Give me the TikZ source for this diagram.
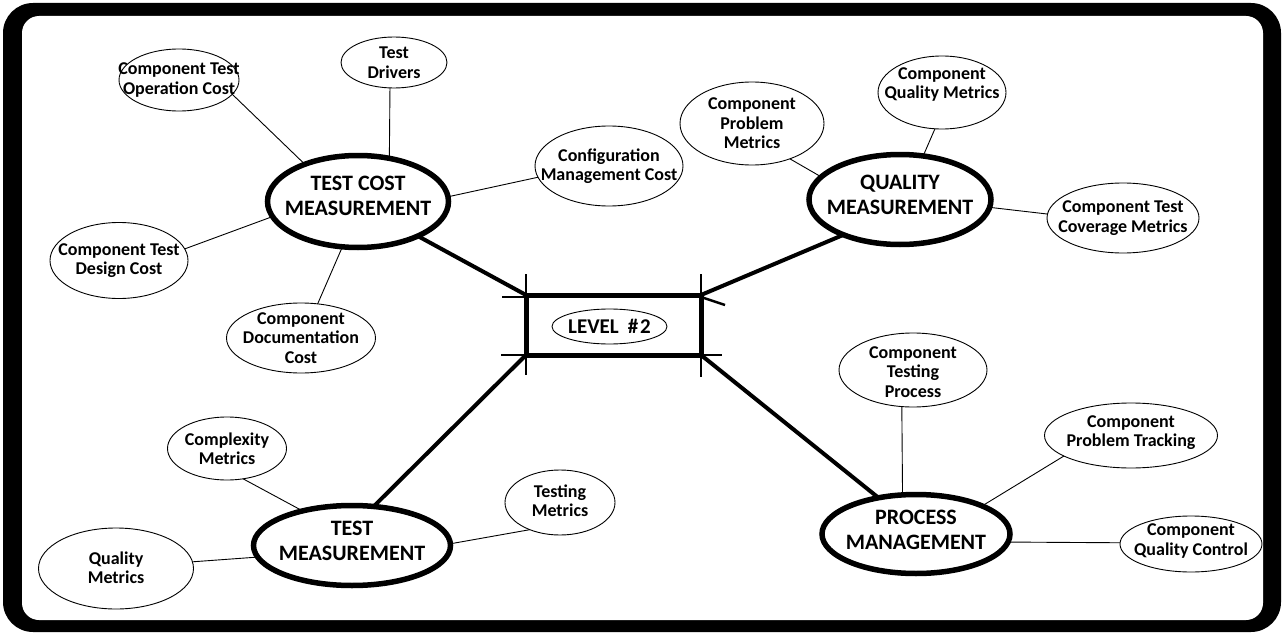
\documentclass[tikz,border=0pt]{standalone}
\usepackage{fontspec}
\setmainfont{Carlito}
\usetikzlibrary{shapes.geometric}

% small ellipse with its label: name, x, y, width, height, label offset, text
\newcommand\bubble[7]{%
  \node[small, minimum width=#4pt, minimum height=#5pt] (#1) at (#2,#3) {};
  \node[stxt] (#1-t) at (#2,{#3+#6}) {#7};}
% big ellipse with its label
\newcommand\hub[7]{%
  \node[big, minimum width=#4pt, minimum height=#5pt] (#1) at (#2,#3) {};
  \node[btxt] (#1-t) at (#2,{#3+#6}) {#7};}

\begin{document}
\begin{tikzpicture}[x=1pt,y=-1pt,
  small/.style={ellipse, draw, line width=0.9pt, inner sep=0pt, outer sep=0pt},
  big/.style={ellipse, draw, line width=5.5pt, inner sep=0pt, outer sep=0pt},
  stxt/.style={font=\bfseries\fontsize{18}{19.5}\selectfont, align=center, inner sep=0pt},
  btxt/.style={font=\bfseries\fontsize{22}{25}\selectfont, align=center, inner sep=0pt},
  thin link/.style={line width=0.9pt},
  thick link/.style={line width=4pt},
  tick/.style={line width=2.5pt}
]
\useasboundingbox (0,0) rectangle (1283,634);
% frame
\fill[black, rounded corners=30pt] (3,3) rectangle (1281,632);
\fill[white, rounded corners=17pt] (22,16) rectangle (1263,620);

% centre box
\node[draw, line width=5pt, minimum width=175pt, minimum height=60pt,
      inner sep=0pt, outer sep=0pt] (lvl) at (613.5,325) {};
\node[small, minimum width=115pt, minimum height=35pt] (lvlx) at (609.5,326.5) {};
\node[font=\bfseries\fontsize{21}{24}\selectfont, inner sep=0pt] (lvlt) at (609.5,326.5)
  {LEVEL\hspace{9pt}\#\hspace{2pt}2};
\draw[tick] ([yshift=21pt]lvl.north west) -- ([yshift=-20pt]lvl.south west);
\draw[tick] ([yshift=21pt]lvl.north east) -- ([yshift=-22pt]lvl.south east);
\draw[tick] ([xshift=-24pt,yshift=-2pt]lvl.north west) -- ([yshift=-2pt]lvl.north west);
\draw[tick] ([xshift=-25pt]lvl.south west) -- ([xshift=21pt]lvl.south east);
\draw[tick] ([yshift=-2pt]lvl.north east) -- ++(24,8);

% hubs
\hub{tc}{358}{201.5}{181}{92}{-6}{TEST COST\\MEASUREMENT}
\hub{qm}{900}{199.5}{182}{90}{-5}{QUALITY\\MEASUREMENT}
\hub{tm}{352}{545.5}{197}{80}{-5}{TEST\\MEASUREMENT}
\hub{pm}{916}{534}{188}{79}{-4}{PROCESS\\MANAGEMENT}

% leaves
\bubble{opc}{179}{80}{120}{62}{0}{Component Test\\Operation Cost}
\bubble{drv}{394}{62.5}{106}{51}{0}{Test\\Drivers}
\bubble{cfg}{609}{166}{148}{80}{0}{Configuration\\Management Cost}
\bubble{dsg}{119}{260.5}{138}{76}{0}{Component Test\\Design Cost}
\bubble{doc}{301}{338}{149}{70}{0}{Component\\Documentation\\Cost}
\bubble{prm}{752}{123.5}{144}{83}{0}{Component\\Problem\\Metrics}
\bubble{qmc}{942}{92.5}{128}{73}{-8}{Component\\Quality Metrics}
\bubble{cov}{1123}{218}{152}{70}{0}{Component Test\\Coverage Metrics}
\bubble{tpr}{913}{370}{148}{74}{2}{Component\\Testing\\Process}
\bubble{ptr}{1131}{435.5}{173}{65}{-3}{Component\\Problem Tracking}
\bubble{qct}{1191}{544}{142}{56}{-3}{Component\\Quality Control}
\bubble{cpx}{227}{448.5}{119}{63}{0}{Complexity\\Metrics}
\bubble{tsm}{560}{502.5}{110}{65}{-2}{Testing\\Metrics}
\bubble{qlm}{116}{568.5}{155}{81}{-1}{Quality\\Metrics}

% hubs to centre
\draw[thick link] (tc.330) -- (lvl.north west);
\draw[thick link] (qm.212) -- (lvl.north east);
\draw[thick link] (tm.61.5) -- (lvl.south west);
\draw[thick link] (lvl.south east) -- (pm.136);

% leaves to hubs
\draw[thin link] (opc.345) -- (tc.145);
\draw[thin link] (drv.261) -- (tc.54);
\draw[thin link] (cfg.189) -- (tc.3);
\draw[thin link] (dsg.10) -- (tc.190);
\draw[thin link] (doc.64) -- (tc.251);
\draw[thin link] (prm.317) -- (qm.164);
\draw[thin link] (qmc.259) -- (qm.62);
\draw[thin link] (cov.177) -- (qm.355);
\draw[thin link] (cpx.298) -- (tm.145);
\draw[thin link] (tsm.222) -- (tm.1);
\draw[thin link] (qlm.5) -- (tm.187);
\draw[thin link] (tpr.253) -- (pm.109);
\draw[thin link] (ptr.197) -- (pm.23);
\draw[thin link] (qct.179) -- (pm.355);
\end{tikzpicture}
\end{document}
